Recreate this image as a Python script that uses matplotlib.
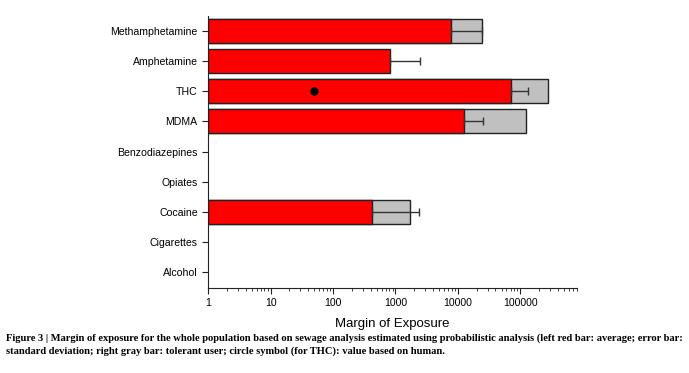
import matplotlib.pyplot as plt
import numpy as np

# data (log-scale margin of exposure)
categories = [
    "Methamphetamine", "Amphetamine", "THC", "MDMA", "Benzodiazepines",
    "Opiates", "Cocaine", "Cigarettes", "Alcohol",
]
average = [7900, 815, 70000, 12500, np.nan, np.nan, 423, np.nan, np.nan]
tolerant = [24000, np.nan, 282000, 124000, np.nan, np.nan, 1740, np.nan, np.nan]
err_upper = [24500, 2500, 133000, 25600, np.nan, np.nan, 2420, np.nan, np.nan]
thc_human = 49

CAPTION = (
    "Figure 3 | Margin of exposure for the whole population based on sewage analysis estimated "
    "using probabilistic analysis (left red bar: average; error bar:\n"
    "standard deviation; right gray bar: tolerant user; circle symbol (for THC): value based on human."
)

fig = plt.figure(figsize=(6.89, 3.73), dpi=100)
ax = fig.add_axes([0.302, 0.228, 0.536, 0.729])

y = np.arange(len(categories))
avg = np.array(average, dtype=float)
tol = np.array(tolerant, dtype=float)
upper = np.array(err_upper, dtype=float)

ax.barh(y, tol, left=1, height=0.8, color="#c0c0c0", edgecolor="#222222", linewidth=1.0, zorder=1)
ax.barh(y, avg - 1, left=1, height=0.8, color="#ff0000", edgecolor="#222222", linewidth=1.0, zorder=2)

mask = ~np.isnan(upper)
xerr = np.vstack([np.zeros(mask.sum()), upper[mask] - avg[mask]])
ax.errorbar(avg[mask], y[mask], xerr=xerr, fmt="none", ecolor="#333333", elinewidth=1.0,
            capsize=3, capthick=1.0, zorder=3)

ax.plot([thc_human], [categories.index("THC")], "o", color="black", markersize=5, zorder=4)

ax.set_xscale("log")
ax.set_xlim(1, 8.2e5)
ax.set_ylim(len(categories) - 0.47, -0.5)
ax.set_yticks(y)
ax.set_yticklabels(categories, fontsize=7.6, family="Liberation Sans")
ax.set_xticks([1, 10, 100, 1000, 10000, 100000])
ax.set_xticklabels(["1", "10", "100", "1000", "10000", "100000"], fontsize=7.6, family="Liberation Sans")
ax.set_xlabel("Margin of Exposure", fontsize=9.5, family="Liberation Sans", labelpad=7)

for side in ("top", "right"):
    ax.spines[side].set_visible(False)
for side in ("left", "bottom"):
    ax.spines[side].set_color("#222222")
ax.tick_params(axis="both", which="major", length=4, color="#222222")
ax.tick_params(axis="x", which="minor", length=2.5, color="#222222")

fig.text(0.009, 0.105, CAPTION, fontsize=7.52, family="Liberation Serif", weight="bold",
         va="top", ha="left", linespacing=1.35)

fig.savefig("out.png", dpi=100)
